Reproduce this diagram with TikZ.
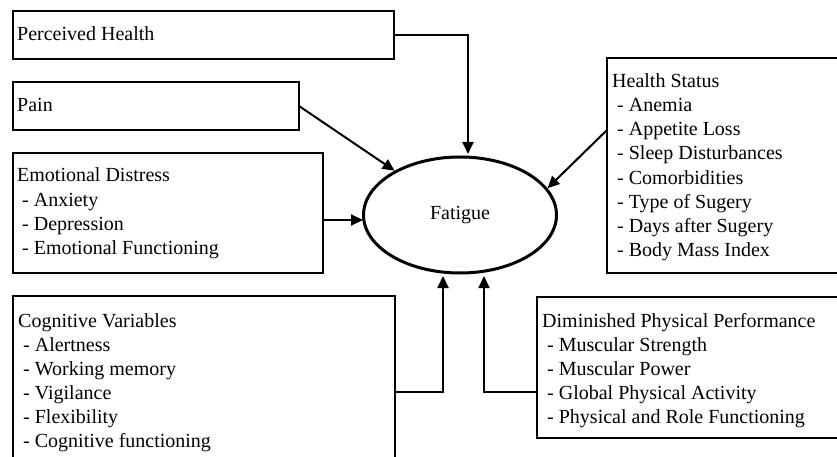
\documentclass[tikz,border=0pt]{standalone}
\usepackage{fontspec}
\setmainfont{Liberation Serif}
\usetikzlibrary{arrows.meta,shapes.geometric}
\begin{document}
\begin{tikzpicture}[x=1pt,y=-1pt,
 box/.style={draw, line width=2pt, anchor=north west, inner sep=0pt, outer sep=0pt},
 txt/.style={anchor=base west, inner sep=0pt, font=\fontsize{20}{24}\selectfont},
 arr/.style={line width=2pt, -{Triangle[length=12pt,width=11pt]}},
]
\useasboundingbox (0,0) rectangle (837,457);
\clip (0,0) rectangle (837,457);
% boxes
\node[box, minimum width=381pt, minimum height=48pt] (ph) at (13,11) {};
\node[box, minimum width=286pt, minimum height=48pt] (pain) at (13,82) {};
\node[box, minimum width=310pt, minimum height=120pt] (ed) at (13,153) {};
\node[box, minimum width=250pt, minimum height=215pt] (hs) at (607,58) {};
\node[box, minimum width=382pt, minimum height=180pt] (cog) at (13,296) {};
\node[box, minimum width=310pt, minimum height=141pt] (dim) at (537,297) {};
% central ellipse
\node[draw, ellipse, line width=3pt, minimum width=193pt, minimum height=116pt, inner sep=0pt,
      font=\fontsize{20}{24}\selectfont] (fat) at (460,215) {Fatigue};
% texts
\node[txt] (phl) at (17,41) {Perceived Health};
\node[txt] (painl) at (17,112) {Pain};
\foreach \t [count=\i from 0] in {Emotional Distress,{\hspace*{5pt}- Anxiety},{\hspace*{5pt}- Depression},{\hspace*{5pt}- Emotional Functioning}}
  \node[txt] (ed-\i) at (17,182+24*\i) {\t};
\foreach \t [count=\i from 0] in {Health Status,{\hspace*{5pt}- Anemia},{\hspace*{5pt}- Appetite Loss},{\hspace*{5pt}- Sleep Disturbances},{\hspace*{5pt}- Comorbidities},{\hspace*{5pt}- Type of Sugery},{\hspace*{5pt}- Days after Sugery},{\hspace*{5pt}- Body Mass Index}}
  \node[txt] (hs-\i) at (612,88+24*\i) {\t};
\foreach \t [count=\i from 0] in {Cognitive Variables,{\hspace*{5pt}- Alertness},{\hspace*{5pt}- Working memory},{\hspace*{5pt}- Vigilance},{\hspace*{5pt}- Flexibility},{\hspace*{5pt}- Cognitive functioning}}
  \node[txt] (cog-\i) at (18,327+24*\i) {\t};
\foreach \t [count=\i from 0] in {Diminished Physical Performance,{\hspace*{5pt}- Muscular Strength},{\hspace*{5pt}- Muscular Power},{\hspace*{5pt}- Global Physical Activity},{\hspace*{5pt}- Physical and Role Functioning}}
  \node[txt] (dim-\i) at (542,327+24*\i) {\t};
% connectors
\coordinate (t1) at (468,154);
\draw[arr] (ph.east) -| (t1);
\draw[arr] (pain.east) -- (fat);
\coordinate (t3) at (363,220);
\draw[arr] (ed.east |- t3) -- (t3);
\coordinate (hsout) at (607,130);
\draw[arr] (hsout) -- (fat.17);
\coordinate (cogout) at (395,392);
\coordinate (t4) at (443,276);
\draw[arr] (cogout) -| (t4);
\coordinate (dimout) at (537,392);
\coordinate (t5) at (484,276);
\draw[arr] (dimout) -| (t5);
\end{tikzpicture}
\end{document}
